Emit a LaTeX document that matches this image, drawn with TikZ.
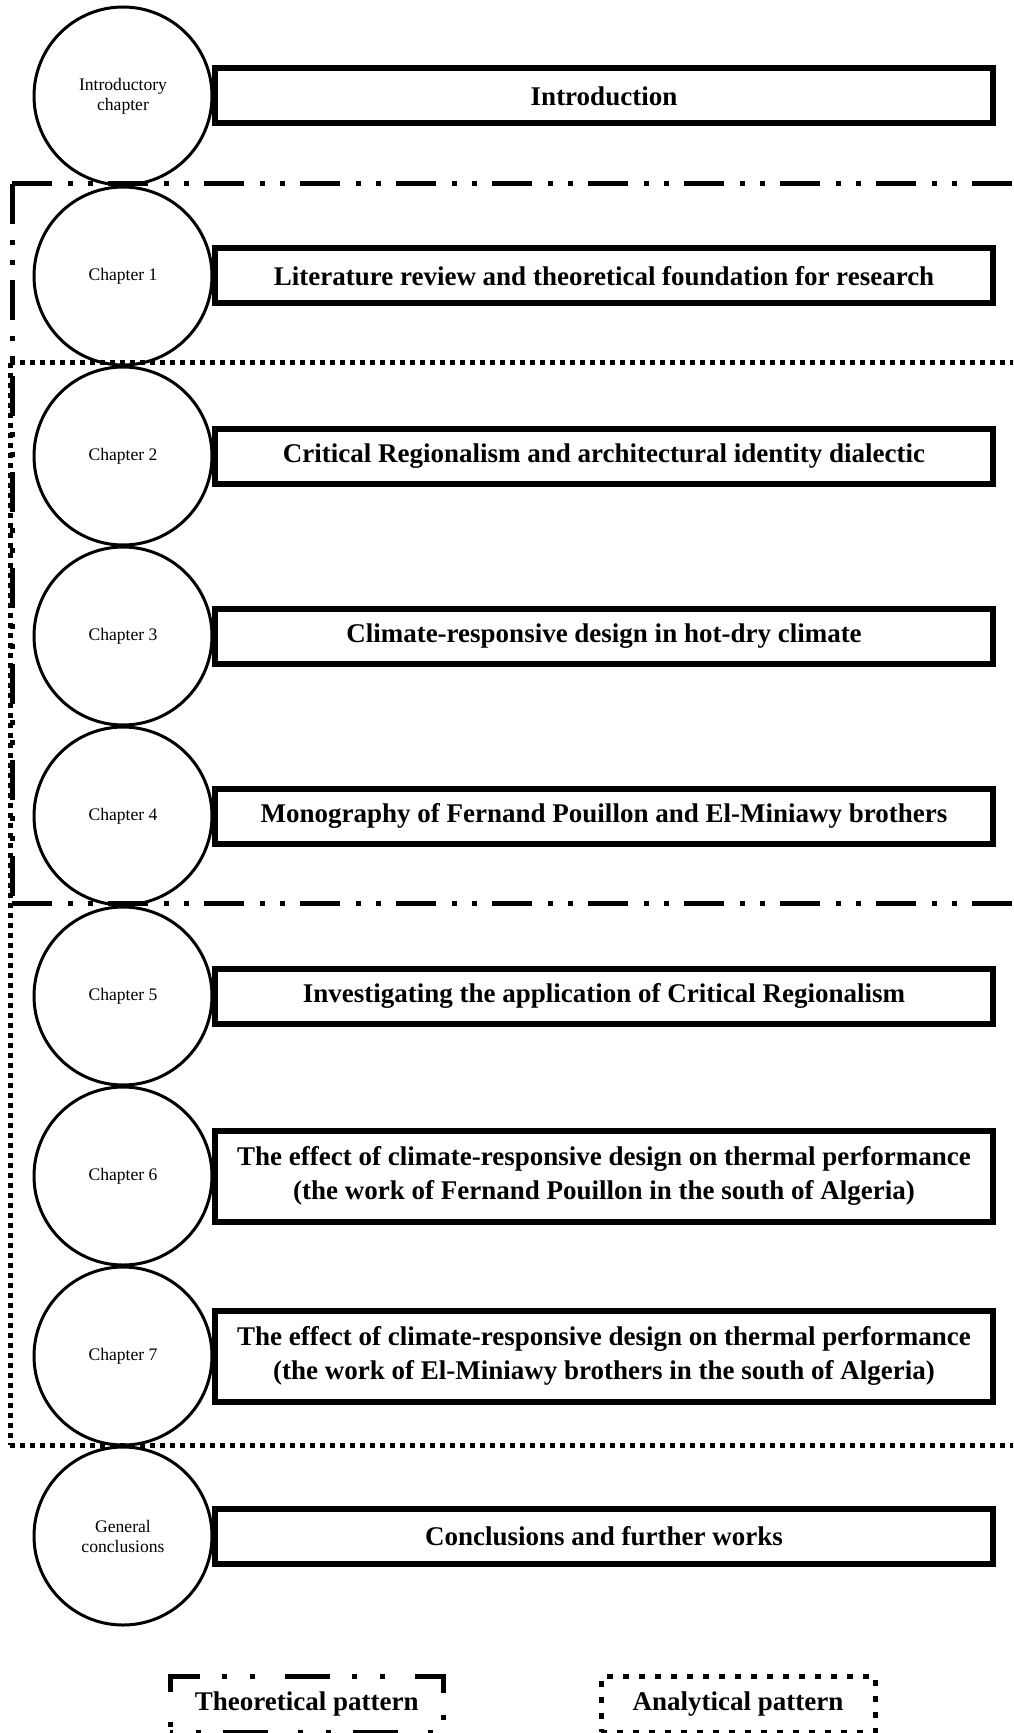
\documentclass[tikz,border=0pt]{standalone}
\usepackage{fontspec}
\setmainfont{Liberation Serif}
\usetikzlibrary{positioning}

\begin{document}
\begin{tikzpicture}[
    x=0.5pt, y=-0.5pt,
    node distance=90pt,
    on grid,
    chapter/.style={circle, draw, line width=1.5pt, minimum size=89pt, inner sep=0pt, align=center, font=\fontsize{8.8}{10}\selectfont},
    topic/.style={draw, line width=3pt, minimum width=389pt, minimum height=27.5pt, inner sep=0pt, align=center, font=\fontsize{13.5}{17}\selectfont\bfseries},
    theory/.style={line width=2.5pt, dash pattern=on 20pt off 8pt on 2.5pt off 7.5pt on 2.5pt off 7.5pt},
    analysis/.style={line width=2.5pt, dash pattern=on 2.5pt off 2.5pt},
    key/.style={draw, line width=2.5pt, minimum width=136.75pt, minimum height=27.75pt, inner sep=0pt, font=\fontsize{13.5}{17}\selectfont\bfseries}
]
   \clip (0,0) rectangle (1013,1733);

   % Chapters
   \node[chapter] (intro) at (123,96) {Introductory\\chapter};
   \node[chapter, below=of intro] (ch1) {Chapter 1};
   \node[chapter, below=of ch1] (ch2) {Chapter 2};
   \node[chapter, below=of ch2] (ch3) {Chapter 3};
   \node[chapter, below=of ch3] (ch4) {Chapter 4};
   \node[chapter, below=of ch4] (ch5) {Chapter 5};
   \node[chapter, below=of ch5] (ch6) {Chapter 6};
   \node[chapter, below=of ch6] (ch7) {Chapter 7};
   \node[chapter, below=of ch7] (concl) {General\\conclusions};

   % Contents
   \node[topic, right=240.5pt of intro] (tintro) {Introduction};
   \node[topic, right=240.5pt of ch1] (tch1) {Literature review and theoretical foundation for research};
   \node[topic, right=240.5pt of ch2] (tch2) {Critical Regionalism and architectural identity dialectic};
   \node[topic, right=240.5pt of ch3] (tch3) {Climate-responsive design in hot-dry climate};
   \node[topic, right=240.5pt of ch4] (tch4) {Monography of Fernand Pouillon and El-Miniawy brothers};
   \node[topic, right=240.5pt of ch5] (tch5) {Investigating the application of Critical Regionalism};
   \node[topic, right=240.5pt of ch6, minimum height=45.5pt] (tch6) {The effect of climate-responsive design on thermal performance\\(the work of Fernand Pouillon in the south of Algeria)};
   \node[topic, right=240.5pt of ch7, minimum height=45.5pt] (tch7) {The effect of climate-responsive design on thermal performance\\(the work of El-Miniawy brothers in the south of Algeria)};
   \node[topic, right=240.5pt of concl] (tconcl) {Conclusions and further works};

   % Theoretical pattern
   \draw[theory] (12,184) -- (1020,184);
   \draw[theory] (12,184) -- (12,903);
   \draw[theory] (12,903) -- (1020,903);

   % Analytical pattern
   \draw[analysis] (10,363) -- (1020,363);
   \draw[analysis] (10,363) -- (10,1445);
   \draw[analysis] (10,1445) -- (1020,1445);

   % Legend
   \node[key, dash pattern=on 22.5pt off 15pt on 2.5pt off 11.5pt on 2.5pt off 11pt, dash phase=38.75pt] (keytheory) at (306.75,1704.25) {Theoretical pattern};
   \node[key, dash pattern=on 3pt off 5pt, minimum width=137pt] (keyanalysis) at (738,1704.25) {Analytical pattern};
\end{tikzpicture}
\end{document}
